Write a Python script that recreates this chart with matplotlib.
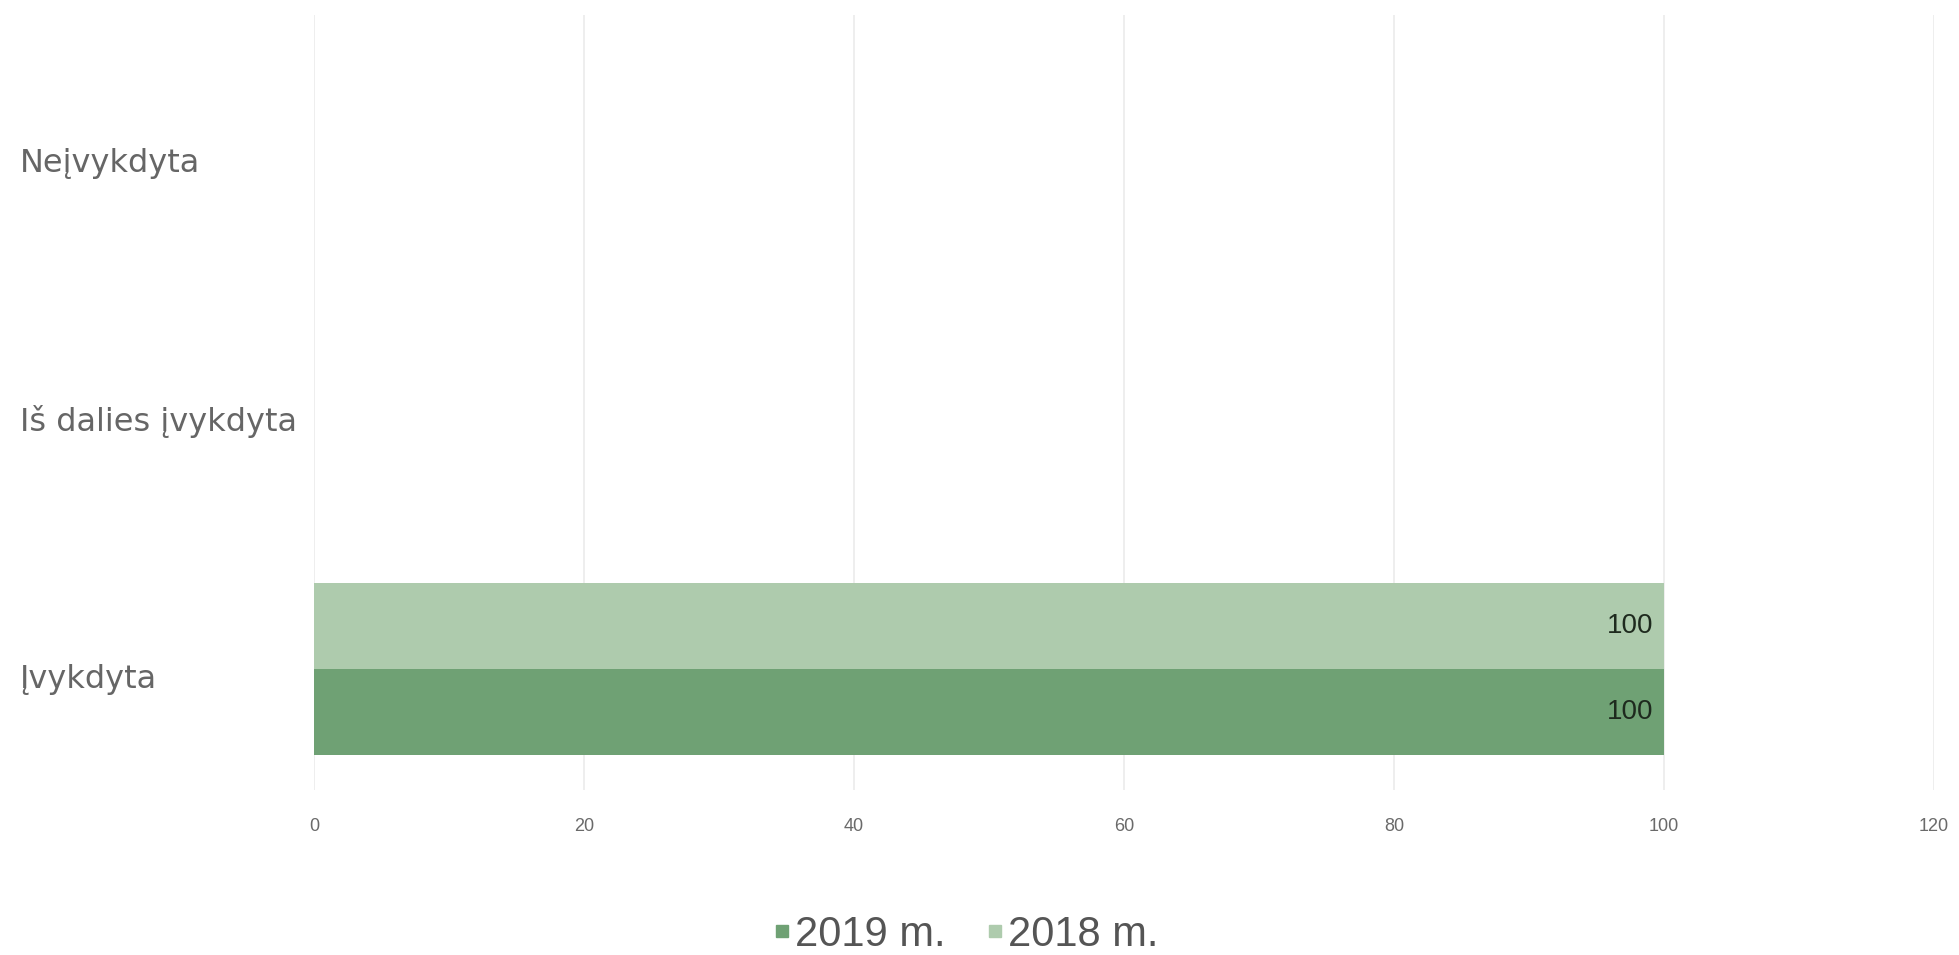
import numpy as np
import matplotlib
matplotlib.use('Agg')
import matplotlib.pyplot as plt
import matplotlib.transforms as mtransforms
from matplotlib.lines import Line2D

#---data
categories = ['Įvykdyta', 'Iš dalies įvykdyta', 'Neįvykdyta']
values_2019 = [100, 0, 0]
values_2018 = [100, 0, 0]
series_names = ['2019 m.', '2018 m.']
x_ticks = [0, 20, 40, 60, 80, 100, 120]

color_2019 = '#6fa174'
color_2018 = '#aecbad'

fig = plt.figure(figsize=(19.59, 9.55), dpi=100)
ax = fig.add_axes([0.1603, 0.1728, 0.8270, 0.8115])

y = np.arange(len(categories))
h = 0.333
bars19 = ax.barh(y - h / 2, values_2019, height=h, color=color_2019, zorder=2)
bars18 = ax.barh(y + h / 2, values_2018, height=h, color=color_2018, zorder=2)

#---value labels inside the bar ends
for bars in (bars19, bars18):
    for b in bars:
        w = b.get_width()
        if w > 0:
            ax.text(w - 0.8, b.get_y() + b.get_height() / 2, '%d' % w,
                    ha='right', va='center', fontsize=20,
                    family='Liberation Sans', color='#1e2a1e', zorder=3)

ax.set_xlim(0, 120)
ax.set_ylim(-0.47, 2.535)
ax.set_xticks(x_ticks)
ax.set_xticklabels([str(t) for t in x_ticks], family='Liberation Sans',
                   fontsize=13, color='#6a6a6a')
ax.tick_params(axis='x', length=0, pad=20)

ax.set_yticks(y)
ax.set_yticklabels(categories, fontsize=23, color='#666666', ha='left')
ax.tick_params(axis='y', length=0, pad=212)
# labels sit a little below the bar group centre in the original
shift = mtransforms.ScaledTranslation(0, -5 / 72, fig.dpi_scale_trans)
for lab in ax.get_yticklabels():
    lab.set_transform(lab.get_transform() + shift)

ax.grid(axis='x', color='#ebebeb', linewidth=1.2, zorder=0)
ax.grid(axis='y', visible=False)
for s in ax.spines.values():
    s.set_visible(False)

#---legend
handles = [Line2D([], [], marker='s', linestyle='none', markersize=9,
                  color=color_2019),
           Line2D([], [], marker='s', linestyle='none', markersize=9,
                  color=color_2018)]
leg = fig.legend(handles, series_names, loc='center', ncol=2,
                 bbox_to_anchor=(0.492, 0.021), frameon=False,
                 prop={'family': 'Liberation Sans', 'size': 30},
                 handletextpad=0.0, columnspacing=0.9, handlelength=0.6)
for t in leg.get_texts():
    t.set_color('#555555')

fig.savefig('out.png', dpi=100)
